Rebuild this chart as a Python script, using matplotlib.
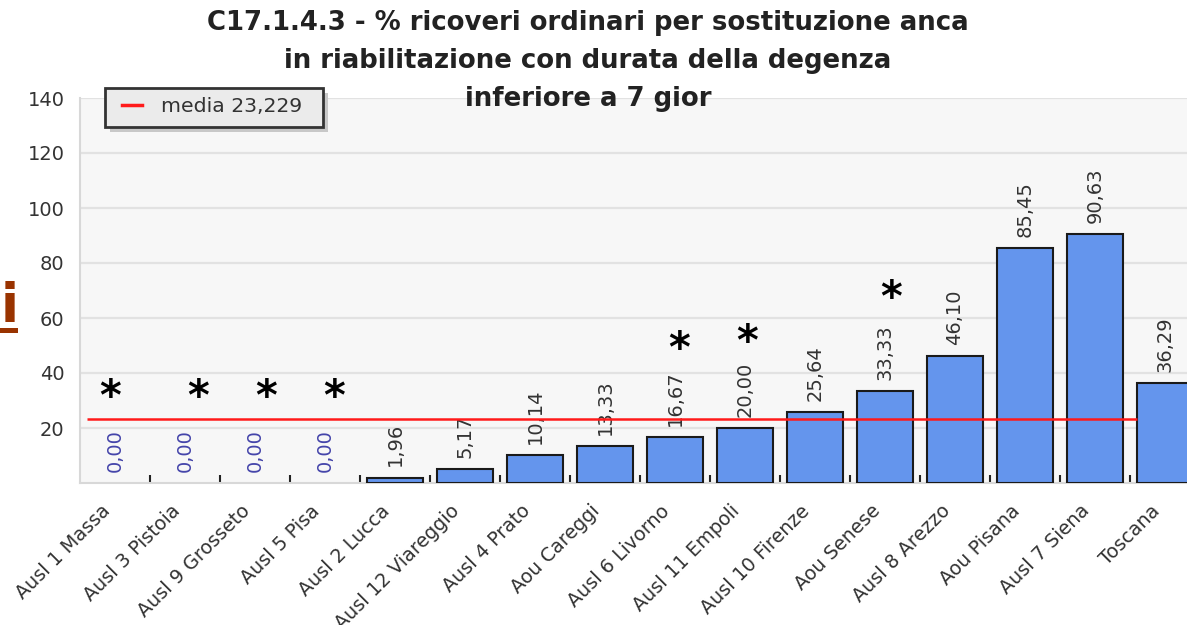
import numpy as np
import matplotlib
matplotlib.use("Agg")
import matplotlib.pyplot as plt
from matplotlib.lines import Line2D
from matplotlib.patches import Rectangle
import matplotlib.transforms as mtransforms

plt.rcParams["font.family"] = ["DejaVu Sans"]

# ---------------- data ----------------
categories = ["Ausl 1 Massa", "Ausl 3 Pistoia", "Ausl 9 Grosseto", "Ausl 5 Pisa",
              "Ausl 2 Lucca", "Ausl 12 Viareggio", "Ausl 4 Prato", "Aou Careggi",
              "Ausl 6 Livorno", "Ausl 11 Empoli", "Ausl 10 Firenze", "Aou Senese",
              "Ausl 8 Arezzo", "Aou Pisana", "Ausl 7 Siena", "Toscana"]
values = [0.00, 0.00, 0.00, 0.00, 1.96, 5.17, 10.14, 13.33,
          16.67, 20.00, 25.64, 33.33, 46.10, 85.45, 90.63, 36.29]
mean_value = 23.229
mean_label = "media 23,229"
y_ticks = [20, 40, 60, 80, 100, 120, 140]
title_lines = ["C17.1.4.3 - % ricoveri ordinari per sostituzione anca",
               "in riabilitazione con durata della degenza",
               "inferiore a 7 gior"]
starred = ["Ausl 1 Massa", "Ausl 3 Pistoia", "Ausl 9 Grosseto", "Ausl 5 Pisa",
           "Ausl 6 Livorno", "Ausl 11 Empoli", "Aou Senese"]
# annotation layout for the asterisks (x shift in category units, height in data units)
star_dx = [-0.07, 0.19, 0.16, 0.13, 0.06, 0.03, 0.09]
star_y = [33.8, 33.8, 33.8, 33.8, 51.3, 53.8, 69.8]

# ---------------- figure ----------------
W, H = 1187, 625
fig = plt.figure(figsize=(W / 100, H / 100), dpi=100)
fig.patch.set_facecolor("white")


def fx(px):
    return px / W


def fy(py):
    return 1 - py / H


ax = fig.add_axes([fx(80), 142 / H, 1120 / W, 385 / H])
ax.set_facecolor("#f7f7f7")

x = np.arange(len(categories))
edge_w = [0 if v == 0 else 1.5 for v in values]
ax.bar(x, values, width=0.8, color="#6495ED", edgecolor="#1a1a1a",
       linewidth=edge_w, zorder=3)
ax.set_xlim(-0.5, len(categories) - 0.5)
ax.set_ylim(0, 140)
ax.set_yticks(y_ticks)
ax.yaxis.grid(True, color="#e2e2e2", linewidth=1.6, zorder=0)
ax.set_axisbelow(True)
for s in ["top", "right"]:
    ax.spines[s].set_visible(False)
for s in ["left", "bottom"]:
    ax.spines[s].set_color("#d8d8d8")
    ax.spines[s].set_linewidth(1.5)

ax.tick_params(axis="y", length=0, pad=11, labelsize=14, labelcolor="#333333")
ax.set_xticks(x)
ax.set_xticklabels(categories, rotation=45, ha="right", va="center",
                   rotation_mode="anchor", fontsize=13.8, color="#333333")
ax.tick_params(axis="x", which="major", length=0, pad=18)
ax.set_xticks(x[:-1] + 0.5, minor=True)
ax.tick_params(axis="x", which="minor", direction="in", length=6,
               width=1.5, color="#222222")
offset = mtransforms.ScaledTranslation(-8 / 100, 0, fig.dpi_scale_trans)
for lab in ax.get_xticklabels():
    lab.set_transform(lab.get_transform() + offset)

# mean line
ax.hlines(mean_value, -0.4, 14.6, color="#ff1a1a", linewidth=1.8, zorder=4)

# value labels
for xi, v in zip(x, values):
    lbl = f"{v:.2f}".replace(".", ",")
    col = "#4444aa" if v == 0 else "#333333"
    ax.annotate(lbl, (xi, v), xytext=(0, 8), textcoords="offset points",
                rotation=90, ha="center", va="bottom", fontsize=14,
                color=col, zorder=3.5)

# asterisks
star_fs = 30
for name, dx, yy in zip(starred, star_dx, star_y):
    xi = categories.index(name)
    ax.annotate("*", (xi + dx, yy), xytext=(0, -0.48 * star_fs),
                textcoords="offset points", ha="center", va="baseline",
                fontsize=star_fs, fontweight="bold", color="black", zorder=6)

# legend box (drawn by hand to match the original's proportions)
fig.add_artist(Rectangle((fx(110), fy(132)), fx(218), 39 / H,
                         transform=fig.transFigure, facecolor="#c8c8c8",
                         edgecolor="none", zorder=5))
fig.add_artist(Rectangle((fx(105), fy(127)), fx(218), 39 / H,
                         transform=fig.transFigure, facecolor="#ebebeb",
                         edgecolor="#333333", linewidth=2, zorder=6))
fig.add_artist(Line2D([fx(122), fx(142)], [fy(105), fy(105)],
                      transform=fig.transFigure, color="#ff1a1a",
                      linewidth=2.5, zorder=7))
fig.text(fx(161), fy(106), mean_label, ha="left", va="center", fontsize=14.7,
         color="#333333", zorder=7)

# title (three centred lines)
for i, line in enumerate(title_lines):
    fig.text(fx(588), fy(30 + 38 * i), line, ha="center", va="baseline",
             fontsize=18.7, fontweight="bold", color="#222222", zorder=8)

# stray fragment at left edge
fig.text(fx(0.5), fy(322), "i", fontsize=38, fontweight="bold",
         color="#993300", ha="left", va="baseline")
fig.add_artist(Line2D([0, fx(15)], [fy(330), fy(330)], transform=fig.transFigure,
                      color="#993300", linewidth=3.6))

fig.savefig("out.png", dpi=100)
